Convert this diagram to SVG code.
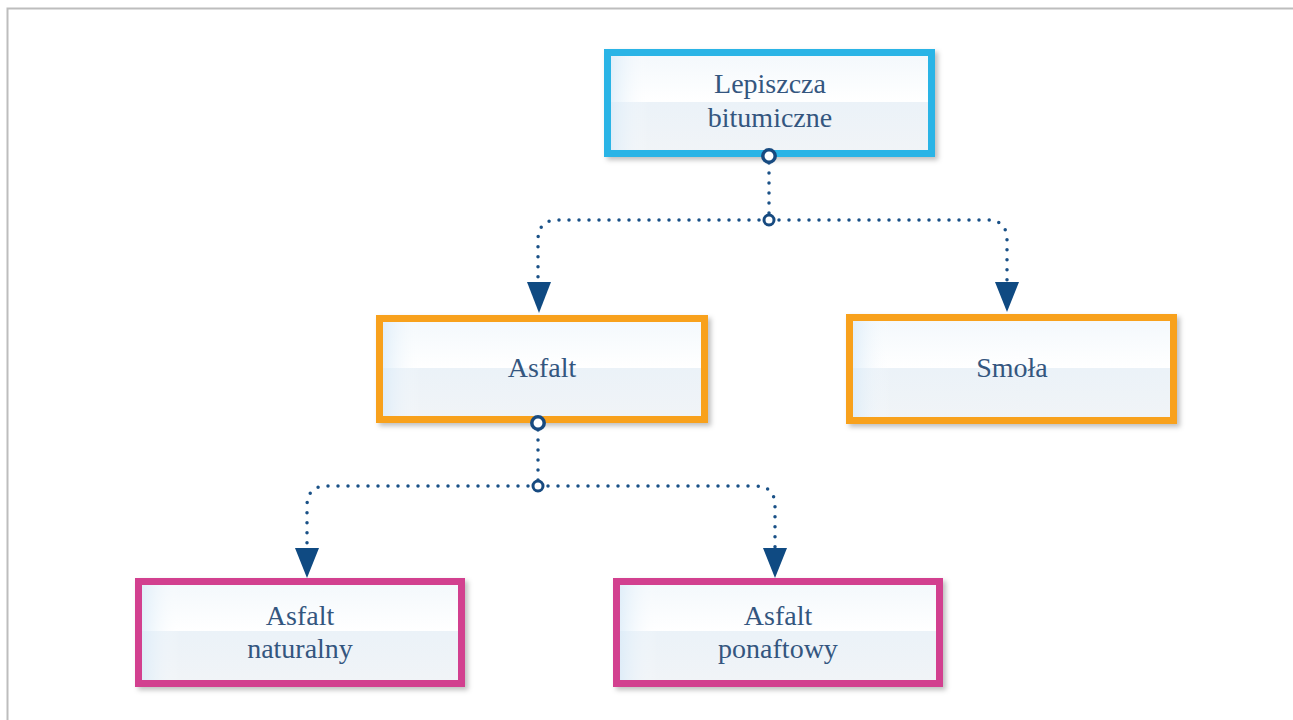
<svg xmlns="http://www.w3.org/2000/svg" width="1293" height="720" viewBox="0 0 1293 720">
<defs>
<style>
.box{stroke-width:7;filter:url(#sh)}
.blue{fill:url(#g);stroke:#2ab4e6}
.orange{fill:url(#g);stroke:#f8a11e}
.pink{fill:url(#g);stroke:#d2408f}
.gl{fill:url(#gl)}
.t{font-family:"Liberation Serif","DejaVu Serif",serif;font-size:28px;fill:#34567f;text-anchor:middle}
.c{fill:none;stroke:#1a5187;stroke-width:3.5;stroke-linecap:round;stroke-dasharray:0 10}
.dot{fill:#fff;stroke:#174a80}
.ah{fill:#0f4a82}
</style>
<linearGradient id="g" x1="0" y1="0" x2="0" y2="1">
<stop offset="0" stop-color="#f3f8fc"/>
<stop offset="0.49" stop-color="#ffffff"/>
<stop offset="0.49" stop-color="#ebf2f8"/>
<stop offset="1" stop-color="#f1f4f7"/>
</linearGradient>
<linearGradient id="gl" x1="0" y1="0" x2="1" y2="0">
<stop offset="0" stop-color="#d8eaf8" stop-opacity="0.7"/>
<stop offset="0.12" stop-color="#ffffff" stop-opacity="0"/>
</linearGradient>
<filter id="sh" x="-10%" y="-20%" width="125%" height="145%">
<feDropShadow dx="3" dy="3" stdDeviation="2.5" flood-color="#000" flood-opacity="0.25"/>
</filter>
</defs>
<rect x="0" y="0" width="1293" height="720" fill="#fff"/>
<path d="M7.5 720 V8.5 H1293" fill="none" stroke="#bdbdbd" stroke-width="2"/>

<g id="lepiszcza">
<rect class="box blue" x="607.5" y="52.5" width="324" height="101"/>
<rect class="gl" x="611" y="56" width="317" height="94"/>
<text class="t" x="770" y="93">Lepiszcza</text>
<text class="t" x="770" y="127">bitumiczne</text>
</g>

<g id="asfalt">
<rect class="box orange" x="379.5" y="318.5" width="325" height="101"/>
<rect class="gl" x="383" y="322" width="318" height="94"/>
<text class="t" x="542" y="377">Asfalt</text>
</g>

<g id="smola">
<rect class="box orange" x="849.5" y="317.5" width="324" height="103"/>
<rect class="gl" x="853" y="321" width="317" height="96"/>
<text class="t" x="1012" y="377">Smoła</text>
</g>

<g id="asfalt-naturalny">
<rect class="box pink" x="138.5" y="581.5" width="323" height="102"/>
<rect class="gl" x="142" y="585" width="316" height="95"/>
<text class="t" x="300" y="625">Asfalt</text>
<text class="t" x="300" y="658">naturalny</text>
</g>

<g id="asfalt-ponaftowy">
<rect class="box pink" x="616.5" y="581.5" width="323" height="102"/>
<rect class="gl" x="620" y="585" width="316" height="95"/>
<text class="t" x="778" y="625">Asfalt</text>
<text class="t" x="778" y="658">ponaftowy</text>
</g>

<g id="connectors">
<path class="c" d="M769 163 V219"/>
<path class="c" d="M769 220 H558 Q538 220 538 240 V285"/>
<path class="c" d="M769 220 H987 Q1007 220 1007 240 V285"/>
<polygon class="ah" points="527,282 551,282 539,313"/>
<polygon class="ah" points="995,282 1019,282 1007,312"/>
<circle class="dot" cx="769" cy="156" r="6.2" stroke-width="3.5"/>
<circle class="dot" cx="769" cy="220" r="5" stroke-width="3"/>

<path class="c" d="M538 430 V485"/>
<path class="c" d="M538 486 H327 Q307 486 307 506 V550"/>
<path class="c" d="M538 486 H755 Q775 486 775 506 V550"/>
<polygon class="ah" points="295,548 319,548 307,578"/>
<polygon class="ah" points="763,548 787,548 775,578"/>
<circle class="dot" cx="538" cy="423" r="6.2" stroke-width="3.5"/>
<circle class="dot" cx="538" cy="486" r="5" stroke-width="3"/>
</g>
</svg>
